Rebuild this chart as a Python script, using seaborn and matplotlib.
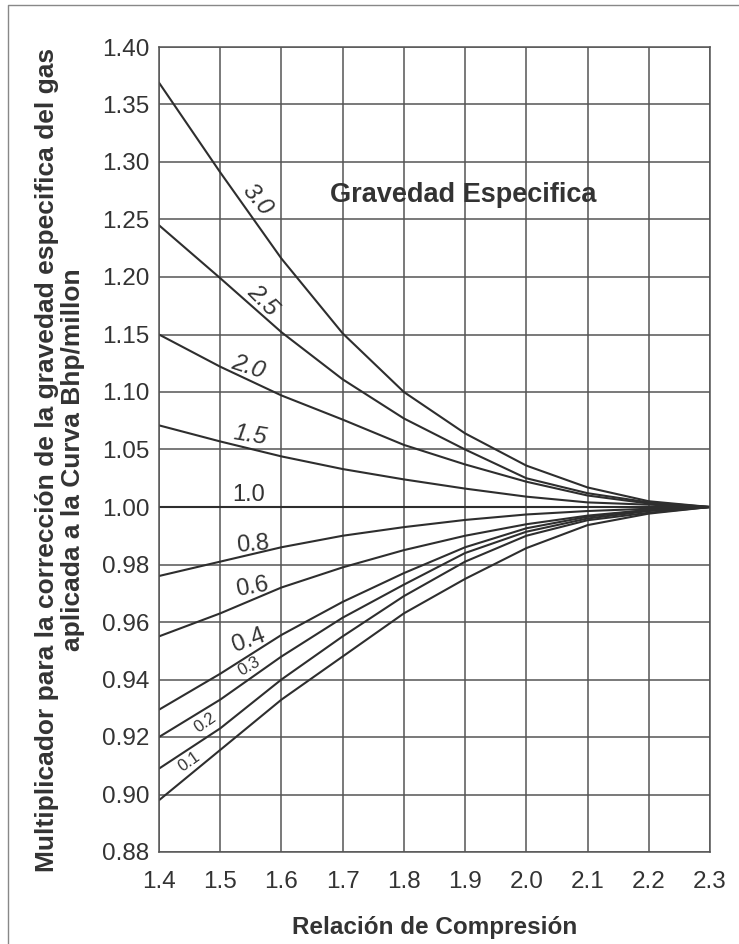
import numpy as np
import pandas as pd
import seaborn as sns
import matplotlib.pyplot as plt
from matplotlib.lines import Line2D

# relacion de compresion
rc = [1.4, 1.5, 1.6, 1.7, 1.8, 1.9, 2.0, 2.1, 2.2, 2.3]

# multiplicador por gravedad especifica
sg30 = [1.369, 1.291, 1.216, 1.151, 1.100, 1.064, 1.036, 1.017, 1.005, 1.000]
sg25 = [1.245, 1.199, 1.152, 1.111, 1.077, 1.050, 1.025, 1.012, 1.004, 1.000]
sg20 = [1.150, 1.122, 1.097, 1.076, 1.054, 1.037, 1.022, 1.010, 1.003, 1.000]
sg15 = [1.071, 1.057, 1.044, 1.033, 1.024, 1.016, 1.009, 1.004, 1.002, 1.000]
sg10 = [1.000, 1.000, 1.000, 1.000, 1.000, 1.000, 1.000, 1.000, 1.000, 1.000]
sg08 = [0.976, 0.981, 0.986, 0.990, 0.993, 0.9955, 0.9974, 0.9986, 0.9994, 1.000]
sg06 = [0.955, 0.963, 0.972, 0.979, 0.985, 0.990, 0.994, 0.997, 0.999, 1.000]
sg04 = [0.9295, 0.942, 0.9555, 0.967, 0.977, 0.986, 0.9926, 0.9966, 0.999, 1.000]
sg03 = [0.920, 0.933, 0.948, 0.9615, 0.973, 0.984, 0.9914, 0.996, 0.9986, 1.000]
sg02 = [0.909, 0.923, 0.940, 0.955, 0.969, 0.981, 0.990, 0.9954, 0.998, 1.000]
sg01 = [0.898, 0.9155, 0.933, 0.948, 0.963, 0.975, 0.9857, 0.9937, 0.9977, 1.000]

sg_names = ['3.0', '2.5', '2.0', '1.5', '1.0', '0.8', '0.6', '0.4', '0.3', '0.2', '0.1']
sg_vals = [sg30, sg25, sg20, sg15, sg10, sg08, sg06, sg04, sg03, sg02, sg01]

yticks = [0.88, 0.90, 0.92, 0.94, 0.96, 0.98, 1.00, 1.05, 1.10, 1.15, 1.20, 1.25, 1.30, 1.35, 1.40]

df = pd.concat([pd.DataFrame({'rc': rc, 'mult': v, 'sg': n}) for n, v in zip(sg_names, sg_vals)])


# eje y partido: 0.02 por division bajo 1.00, 0.05 por division sobre 1.00
def fwd(v):
    v = np.asarray(v, dtype=float)
    return np.where(v >= 1.0, 6 + (v - 1.0) / 0.05, (v - 0.88) / 0.02)


def inv(u):
    u = np.asarray(u, dtype=float)
    return np.where(u >= 6, 1.0 + (u - 6) * 0.05, 0.88 + u * 0.02)


sns.set_style('white')
plt.rcParams['font.family'] = ['Liberation Sans', 'DejaVu Sans']
txt = '#333333'
grid = '#555555'

fig = plt.figure(figsize=(7.39, 9.44), dpi=100)
ax = fig.add_axes([159/739, 1 - 852/944, 551/739, 805/944])
ax.set_yscale('function', functions=(fwd, inv))

sns.lineplot(data=df, x='rc', y='mult', units='sg', estimator=None,
             color='#2e2e2e', lw=1.5, ax=ax, legend=False)

ax.set_xlim(1.4, 2.3)
ax.set_ylim(0.88, 1.40)
ax.set_xticks(rc)
ax.set_xticklabels([f'{v:.1f}' for v in rc])
ax.set_yticks(yticks)
ax.set_yticklabels([f'{v:.2f}' for v in yticks])
ax.minorticks_off()
ax.grid(True, color=grid, lw=1.1)
ax.set_axisbelow(True)
for s in ax.spines.values():
    s.set_color(grid)
    s.set_linewidth(1.1)
ax.tick_params(axis='x', length=0, pad=14, labelsize=17.5, labelcolor=txt)
ax.tick_params(axis='y', length=0, pad=7, labelsize=17.5, labelcolor=txt)

ax.set_xlabel('Relación de Compresión', fontsize=17.5, fontweight='bold',
              color=txt, labelpad=16)
ax.set_ylabel('Multiplicador para la corrección de la gravedad especifica del gas\n'
              'aplicada a la Curva Bhp/millon', fontsize=19, fontweight='bold',
              color=txt, labelpad=13, linespacing=1.1)
ax.yaxis.set_label_coords(-0.135, 0.487)

ax.text(1.897, 1.271, 'Gravedad Especifica', fontsize=19.5, fontweight='bold',
        color=txt, ha='center', va='center')

# etiquetas de curva: (x, y, rotacion, tamano, estilo)
lab_pos = [
    (1.560, 1.267, -50, 17.5, 'italic'),
    (1.570, 1.180, -45, 17.5, 'italic'),
    (1.545, 1.122, -18, 17.5, 'italic'),
    (1.549, 1.062, -9, 17.5, 'italic'),
    (1.547, 1.0105, 0, 17, 'normal'),
    (1.554, 0.9868, 5, 17, 'normal'),
    (1.552, 0.9722, 10, 17, 'normal'),
    (1.547, 0.9534, 20, 17.5, 'normal'),
    (1.547, 0.9447, 30, 12, 'normal'),
    (1.475, 0.9249, 35, 12, 'normal'),
    (1.449, 0.9113, 35, 12, 'normal'),
]
for name, (x, y, r, fs, st) in zip(sg_names, lab_pos):
    ax.text(x, y, name, rotation=r, fontsize=fs, style=st, color=txt,
            ha='center', va='center', rotation_mode='anchor')

# marco exterior
fig.add_artist(Line2D([8/739, 8/739, 1], [0, 1 - 5/944, 1 - 5/944],
                      transform=fig.transFigure, color='#888888', lw=1))

fig.savefig('out.png', dpi=100)
